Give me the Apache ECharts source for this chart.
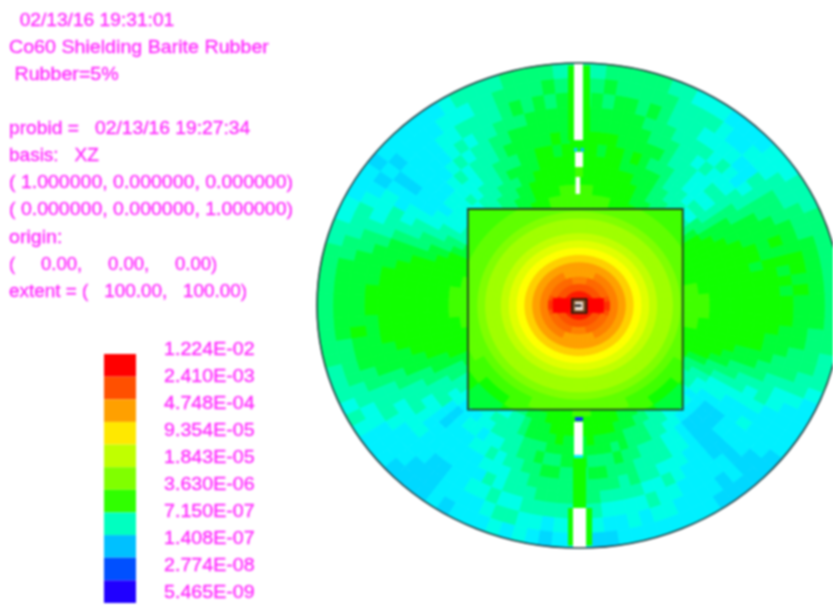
<!DOCTYPE html>
<html>
<head>
<meta charset="utf-8">
<style>
html,body{margin:0;padding:0;background:#fff;overflow:hidden}
#main{width:833px;height:609px;filter:blur(0.8px)}
</style>
<script src="https://cdn.jsdelivr.net/npm/echarts@6/dist/echarts.min.js"></script>
</head>
<body>
<div id="main"></div>
<script>
const infoLines = [
  "  02/13/16 19:31:01",
  "Co60 Shielding Barite Rubber",
  " Rubber=5%",
  "",
  "probid =   02/13/16 19:27:34",
  "basis:   XZ",
  "( 1.000000, 0.000000, 0.000000)",
  "( 0.000000, 0.000000, 1.000000)",
  "origin:",
  "(     0.00,     0.00,     0.00)",
  "extent = (   100.00,   100.00)"
];
const legendLabels = ["1.224E-02","2.410E-03","4.748E-04","9.354E-05","1.843E-05","3.630E-06","7.150E-07","1.408E-07","2.774E-08","5.465E-09"];
const legendColors = ["#ff0000","#ff5000","#ffa000","#ffe800","#c0ff00","#80ff00","#30ff00","#00ffc0","#00c0ff","#0050ff","#2000ff"];
// colour for each tally level 0..30 (level is the base-36 digit used in the rows below)
const levelColors = ["#2000ff","#1030ff","#0050ff","#0070ff","#0090ff","#00a8ff","#00c0ff","#00d8ff","#00f0ff","#00ffe8","#00ffb0","#00ff78","#00ff38","#10ff00","#40ff00","#60ff00","#80ff00","#a0ff00","#c0ff00","#e0ff00","#ffff00","#ffe800","#ffd000","#ffb800","#ffa000","#ff8000","#ff6800","#ff5000","#ff3000","#ff1800","#ff0000"];

const innerStep = 5, outerStep = 3;
// radial bin edges
const innerEdges = [0,3,6,9,12,15,18,21,24,27,30,33,36,39,42,46,50,55,60];
const outerEdges = [0,46,50,54,58,62,67,72,77,82,88,94,100];
// inside the large box: one row per 5 degree sector (counter-clockwise from +x), one digit per radial bin
const innerRows = [
"tuuspomkjihhgffeee","tuuspomkjihhgffeee","tuurpomkjihhgffeee","tuurpomkjihhgffeee","ttsqpomkjihhgffeee","ttrqpomkjihhgffeee",
"ttrqpomkjihhgffeee","ttrqpomkjihhgffeee","ttrqpomkjihhgffeee","ttrqpomkjihhgffeee","ttrqpomkjihhgffeee","ttrqpomkjihhgffeee",
"ttrqpomkjihhgffeee","ttrqoomkjihhgffeee","ttrqoomkjihhgffeee","ttrpoomkjihhgffeee","ttrpoomkjihhgffeee","ttrpoomkjihhgffeee",
"ttrpoomkjihhgffeee","ttrpoomkjihhgffeee","ttrpoomkjihhgffeee","ttrqoomkjihhgffeee","ttrqoomkjihhgffeee","ttrqpomkjihhgffeee",
"ttrqpomkjihhgffeee","ttrqpomkjihhgffeee","ttrqpomkjihhgffeee","ttrqpomkjihhgffeee","ttrqpomkjihhgffeee","ttrqpomkjihhgffeee",
"ttrqpomkjihhgffeee","ttsqpomkjihhgffeee","tuurpomkjihhgffeee","tuurpomkjihhgffeee","tuuspomkjihhgffeee","tuuspomkjihhgffeee",
"tuuspomkjihhgffeee","tuuspomkjihhgffeee","tuurpomkjihhgffeee","tuurpomkjihhgffeee","ttsqpomkjihhgffeee","ttrqpomkjihhgffeee",
"ttrqpomkjihhgfeedd","ttrqpomkjihhgfeedd","ttrqpomkjihhgfedcc","ttrqpomkjihhgfedcc","ttrqpomkjihhgfedcc","ttrqpomkjihhgfeedd",
"ttrqpomkjihhgfeedd","ttrqoomkjihhgffeee","ttrqoomkjihhgffeee","ttrpoomkjihhgffeee","ttrpoomkjihhgffeee","ttrpoomkjihhgffeee",
"ttrpoomkjihhgffeee","ttrpoomkjihhgffeee","ttrpoomkjihhgffeee","ttrqoomkjihhgffeee","ttrqoomkjihhgffeee","ttrqpomkjihhgfeedd",
"ttrqpomkjihhgfeedd","ttrqpomkjihhgfedcc","ttrqpomkjihhgfedcc","ttrqpomkjihhgfedcc","ttrqpomkjihhgfeedd","ttrqpomkjihhgfeedd",
"ttrqpomkjihhgffeee","ttsqpomkjihhgffeee","tuurpomkjihhgffeee","tuurpomkjihhgffeee","tuuspomkjihhgffeee","tuuspomkjihhgffeee"
];
// outside the large box: one row per 3 degree sector, one digit per radial bin
const outerRows = [
"eedddddddccb","eeddddddcdcb","eddddddddccb","edddddddcdcb","ddddddcdddcb","dddddddccccb","dddddddcdcbb","ddddddccccbb","dddddccccbba","ddddccccbbaa",
"dddcccbbbbaa","cccbbbbaaaa9","cbbbaaaa9a99","aaa9a9a98899","aaa9a9a99898","aaaa9999a988","aaaaa99a9988","bbbaaaa9a998","cbbbaaaaa9a9","ccbbbbaaaaa9",
"dccccbbbaaa9","dccccbcbbaaa","dddccccbbbba","ddddcdccbcbb","ddddcccccbbb","edddddccccbb","eddddddcccbb","eddddcdccbcb","eedddddcccba","eedddddccbba",
"eedddddcccba","eeddddccccba","eedddcdccbcb","edddddccccbb","edddddcccbbb","ddddccccbcbb","dddcccccbbba","dccccbcbbaaa","cccbcbbbaaaa","ccbbbbaaaa9a",
"cbbbaaaa9a99","bbbaaaa9a998","bbaaa99a9988","aaaa99a98888","aaa9a9988888","aaa999888888","aaa999888878","aaa998887787","aaa999888878","bbaaa9998988",
"ccbbaaa9a998","dccbbbaaa9a9","dddccbbbaaa9","ddddccccbbaa","ddddddcccbba","eddddddcccbb","edddddddcccb","eeddddddcccb","eedddddddccb","eedddddddccb",
"eedddddddccb","eeddddddcccb","edddddddcdcb","edddddddccbb","dddddddcccbb","ddddddccccba","dddddccccbba","dddccccbbbaa","dccccbbbaaa9","ccbbbbaaaa9a",
"cbbbaaaa9a99","bbaaaa9a9988","baaa9a999888","aaa998889888","aa9987788887","aa9988888877","aa9989888777","aa9999888777","aa9a98988888","ba9aa9988887",
"bbaaa9a98988","cbaaaa99a988","ccbbaaa99a98","dcccbbaaa9a9","dcccbbbaa9a8","ddccbcbbaa99","dddccbcbba98","ddddcbcbba87","dddcccbbba98","eddcccbbba98",
"eddcccbbba98","edddcbcbba97","dddccbcba987","dddccbbba988","dddcbcbaa998","ddcccbbba988","dccbbbaa9a98","cccbbaaa9998","ccbbbaa9a988","cbbaaaa99888",
"bbaaa9998888","baaa99988887","aa9998888877","aa9987777887","aa9987777777","aa9987788877","aa9887788887","aaa988889888","aaa999888888","bbaa99999888",
"cbbbaaa9a988","dccbbbaaa998","dddccbbbaaa9","ddddcccbbbaa","dddddcccbbba","dddddddccbba","eddddddcccbb","edddddddccbb","eedddddddccb","eedddddddccb"
];
// [x0,x1,y0,y1,level] tally cells that are rectangular: red lobes and the vertical axis column
const stripCells = [
[-10,-3.4,-3,3,30],[3.4,9.5,-3,3,30],
[-4.2,-1.9,68,99,13],[1.5,4.2,68,99,13],[-1.9,1.5,63.3,68.2,13],[-1.9,-0.6,63.5,65,7],[0.6,1.9,63.5,65,6],
[-1.5,1.5,57.1,63.3,14],[-1.5,1.5,53,57.1,14],[-1.5,1.5,-47.6,-46,1],[-1.9,1.5,-62.9,-61.6,8],
[-2.3,2.7,-83.5,-62.9,13],[-4.2,-2.3,-99,-83.5,13],[2.7,5,-99,-83.5,13]
];
// [x0,x1,y0,y1] cells with no tally
const voidCells = [[-1.9,1.5,68.2,100],[-1.5,1.5,57.1,63.3],[-1.3,0.4,46,53],[-1.9,1.5,-61.6,-48],[-2.3,2.7,-100,-83.5]];
// geometry outlines [x0,x1,y0,y1]
const outerBox = [-42.4,39.6,-42.9,39.8];
const sourceBox = [-2.7,2.9,-3.1,2.7];
const sourceCore = [-1.6,1.6,-2,1.6];
const sourceMark = [-1.6,0.9,-0.5,0.4];
const worldRadius = 100;
// horizontal stretch of each info line
const infoStretch = [1.054,1.08,1.08,1,1.058,1.045,1.072,1.072,1.08,1.02,1.04];

function boxDist(deg){
  const t = deg*Math.PI/180, c = Math.cos(t), s = Math.sin(t);
  const dx = c>1e-6 ? outerBox[1]/c : c<-1e-6 ? outerBox[0]/c : Infinity;
  const dy = s>1e-6 ? outerBox[3]/s : s<-1e-6 ? outerBox[2]/s : Infinity;
  return Math.min(dx,dy);
}
const cellData = [];
innerRows.forEach((row,i)=>{
  for(let j=0;j<row.length;j++) cellData.push([i*innerStep,(i+1)*innerStep,j,parseInt(row[j],36),0]);
});
outerRows.forEach((row,i)=>{
  for(let j=0;j<row.length;j++) cellData.push([i*outerStep,(i+1)*outerStep,j,parseInt(row[j],36),1]);
});
function edgeAt(zone,j,deg){
  const D = boxDist(deg);
  if(zone===0) return Math.min(innerEdges[j],D);
  return j===0 ? D : Math.max(outerEdges[j],D);
}
function ringPoint(api,r,deg){
  const t = deg*Math.PI/180;
  return api.coord([r*Math.cos(t),r*Math.sin(t)]);
}
function renderCell(params,api){
  const a0=api.value(0),a1=api.value(1),j=api.value(2),zone=api.value(4);
  const pts=[];
  const steps=[a0,(a0+a1)/2,a1];
  steps.forEach(a=>pts.push(ringPoint(api,edgeAt(zone,j,a),a)));
  steps.slice().reverse().forEach(a=>pts.push(ringPoint(api,edgeAt(zone,j+1,a),a)));
  const c=api.visual('color');
  return {type:'polygon',shape:{points:pts},style:{fill:c,stroke:c,lineWidth:0.9}};
}
function renderRect(params,api){
  const p0=api.coord([api.value(0),api.value(3)]),p1=api.coord([api.value(1),api.value(2)]);
  const c=api.visual('color');
  return {type:'rect',shape:{x:p0[0],y:p0[1],width:p1[0]-p0[0],height:p1[1]-p0[1]},style:{fill:c}};
}
function plainRect(fill,stroke,lw){
  return function(params,api){
    const p0=api.coord([api.value(0),api.value(3)]),p1=api.coord([api.value(1),api.value(2)]);
    return {type:'rect',shape:{x:p0[0],y:p0[1],width:p1[0]-p0[0],height:p1[1]-p0[1]},style:{fill:fill,stroke:stroke,lineWidth:lw}};
  };
}
function renderWorld(params,api){
  const c=api.coord([0,0]),e=api.coord([api.value(0),api.value(0)]);
  return {type:'ellipse',shape:{cx:c[0],cy:c[1],rx:e[0]-c[0],ry:c[1]-e[1]},style:{fill:'none',stroke:'#2a3a40',lineWidth:1.6}};
}
const TEXT='#ff30ff', FONT='"Liberation Sans",Arial,sans-serif';
const graphics=[];
infoLines.forEach((t,i)=>{
  if(t) graphics.push({type:'text',x:9,y:20.7+i*27.1,scaleX:infoStretch[i],silent:true,
    style:{x:0,y:0,text:t,fill:TEXT,stroke:TEXT,lineWidth:0.35,font:'18.2px '+FONT,textVerticalAlign:'middle',textBaseline:'middle'}});
});
legendLabels.forEach((t,i)=>{
  graphics.push({type:'text',x:164,y:349.5+i*27.0,scaleX:1.08,silent:true,
    style:{x:0,y:0,text:t,fill:TEXT,stroke:TEXT,lineWidth:0.35,font:'18.2px '+FONT,textBaseline:'middle',textVerticalAlign:'middle'}});
});
const chart=echarts.init(document.getElementById('main'),null,{renderer:'canvas'});
const onField={type:'custom',coordinateSystem:'cartesian2d',xAxisIndex:0,yAxisIndex:0,clip:false,silent:true};
chart.setOption({
  animation:false,
  backgroundColor:'#fff',
  graphic:graphics,
  grid:[
    {left:317,top:63,width:524,height:485,containLabel:false,outerBoundsMode:'none'},
    {left:104,top:354,width:32,height:249,containLabel:false,outerBoundsMode:'none'}
  ],
  xAxis:[
    {type:'value',min:-worldRadius,max:worldRadius,show:false,gridIndex:0},
    {type:'value',min:0,max:1,show:false,gridIndex:1}
  ],
  yAxis:[
    {type:'value',min:-worldRadius,max:worldRadius,show:false,gridIndex:0},
    {type:'category',inverse:true,data:legendColors,show:false,gridIndex:1}
  ],
  visualMap:[{type:'continuous',show:false,min:0,max:30,dimension:3,seriesIndex:[1],inRange:{color:levelColors}},
             {type:'continuous',show:false,min:0,max:30,dimension:4,seriesIndex:[2],inRange:{color:levelColors}}],
  series:[
    Object.assign({},onField,{z:0,encode:{x:[0,1],y:[2,3]},data:[outerBox],renderItem:plainRect('#40ff00','none',0)}),
    Object.assign({},onField,{z:1,encode:{x:[],y:[]},data:cellData,renderItem:renderCell}),
    Object.assign({},onField,{z:2,encode:{x:[0,1],y:[2,3]},data:stripCells,renderItem:renderRect}),
    Object.assign({},onField,{z:3,encode:{x:[0,1],y:[2,3]},data:voidCells,renderItem:plainRect('#ffffff','none',0)}),
    Object.assign({},onField,{z:4,encode:{x:[0,1],y:[2,3]},data:[outerBox],renderItem:plainRect('none','#263a20',1.8)}),
    Object.assign({},onField,{z:4,encode:{x:[0,1],y:[2,3]},data:[sourceBox],renderItem:plainRect('#7a4a20','#201008',1.6)}),
    Object.assign({},onField,{z:5,encode:{x:[0,1],y:[2,3]},data:[sourceCore],renderItem:plainRect('#f2e4d8','none',0)}),
    Object.assign({},onField,{z:6,encode:{x:[0,1],y:[2,3]},data:[sourceMark],renderItem:plainRect('#101010','none',0)}),
    Object.assign({},onField,{z:7,encode:{x:[0],y:[0]},data:[[worldRadius]],renderItem:renderWorld}),
    {type:'bar',xAxisIndex:1,yAxisIndex:1,barWidth:'100%',silent:true,
     data:legendColors.map(c=>({value:1,itemStyle:{color:c}}))}
  ]
});
</script>
</body>
</html>
